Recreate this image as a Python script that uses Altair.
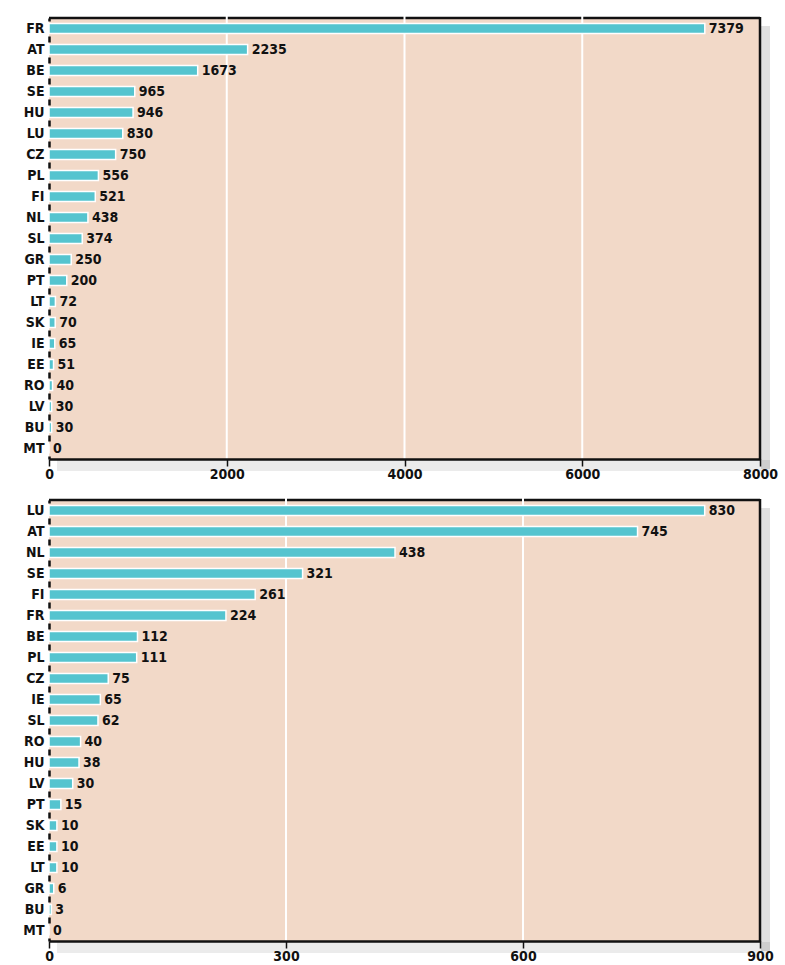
import altair as alt
import pandas as pd

top_cats = ["FR", "AT", "BE", "SE", "HU", "LU", "CZ", "PL", "FI", "NL", "SL",
            "GR", "PT", "LT", "SK", "IE", "EE", "RO", "LV", "BU", "MT"]
top_vals = [7379, 2235, 1673, 965, 946, 830, 750, 556, 521, 438, 374,
            250, 200, 72, 70, 65, 51, 40, 30, 30, 0]
top_ticks = [0, 2000, 4000, 6000, 8000]

bot_cats = ["LU", "AT", "NL", "SE", "FI", "FR", "BE", "PL", "CZ", "IE", "SL",
            "RO", "HU", "LV", "PT", "SK", "EE", "LT", "GR", "BU", "MT"]
bot_vals = [830, 745, 438, 321, 261, 224, 112, 111, 75, 65, 62,
            40, 38, 30, 15, 10, 10, 10, 6, 3, 0]
bot_ticks = [0, 300, 600, 900]

W = 711
H = 441
FONT = "DejaVu Sans Condensed"
BAR = "#55c4cf"
BG = "#f2d9c8"


def panel(cats, vals, ticks):
    xmax = ticks[-1]
    df = pd.DataFrame({"cat": cats, "val": vals})
    grid_df = pd.DataFrame({"v": ticks[1:-1]})
    xscale = alt.Scale(domain=[0, xmax], nice=False, zero=True)
    step = H / len(cats)
    one = pd.DataFrame({"a": [0]})

    xaxis = alt.Axis(orient="bottom", values=ticks, grid=False, title=None,
                     domainColor="#111111", domainWidth=2.5,
                     tickColor="#111111", tickWidth=1.5, tickSize=7,
                     labelPadding=1, labelFont=FONT, labelFontSize=14,
                     labelColor="#111111", labelFontWeight="bold",
                     labelFlush=False, format="d", zindex=1)

    shadow_r = alt.Chart(one).mark_rect(color="#000000", opacity=0.12).encode(
        x=alt.value(W + 1), x2=alt.value(W + 10),
        y=alt.value(8), y2=alt.value(H + 10))
    shadow_b = alt.Chart(one).mark_rect(color="#000000", opacity=0.08).encode(
        x=alt.value(8), x2=alt.value(W + 10),
        y=alt.value(H + 1), y2=alt.value(H + 12))

    top_border = alt.Chart(one).mark_rule(color="#111111", strokeWidth=2.5).encode(
        x=alt.value(0), x2=alt.value(W), y=alt.value(0))

    grid = alt.Chart(grid_df).mark_rule(color="white", strokeWidth=2).encode(
        x=alt.X("v:Q", scale=xscale, axis=xaxis),
        y=alt.value(-3), y2=alt.value(H),
    )

    bars = alt.Chart(df).mark_bar(
        color=BAR, stroke="white", strokeWidth=1.5, size=10
    ).encode(
        x=alt.X("val:Q", scale=xscale, axis=xaxis),
        y=alt.Y("cat:N", sort=cats, scale=alt.Scale(paddingInner=0.0, paddingOuter=0.0),
                axis=alt.Axis(orient="left", title=None, ticks=False, grid=False,
                              domain=True, domainColor="#111111", domainWidth=2.5,
                              domainDash=[6, step - 6], domainDashOffset=3,
                              labelFont=FONT, labelFontSize=14, labelFontWeight="bold",
                              labelColor="#111111", labelPadding=5,
                              minExtent=40, maxExtent=40)),
    )

    text = alt.Chart(df).mark_text(
        align="left", baseline="middle", dx=4, font=FONT, fontSize=14,
        fontWeight="bold", color="#111111"
    ).encode(
        x=alt.X("val:Q", scale=xscale, axis=xaxis),
        y=alt.Y("cat:N", sort=cats),
        text=alt.Text("val:Q", format="d"),
    )

    right = alt.Chart(pd.DataFrame({"v": [xmax]})).mark_rule(
        color="#111111", strokeWidth=2.5
    ).encode(x=alt.X("v:Q", scale=xscale, axis=xaxis),
             y=alt.value(-1), y2=alt.value(H + 1))

    return alt.layer(shadow_r, shadow_b, top_border, grid,
                     bars, text, right).properties(width=W, height=H)


chart = alt.vconcat(
    panel(top_cats, top_vals, top_ticks),
    panel(bot_cats, bot_vals, bot_ticks),
    spacing=15,
).properties(
    padding={"left": 9, "top": 14, "right": 5, "bottom": 5},
    background="white",
).configure_view(
    stroke=None, fill=BG
)

chart.save("out.html", embed_options={"renderer": "svg", "actions": False})
